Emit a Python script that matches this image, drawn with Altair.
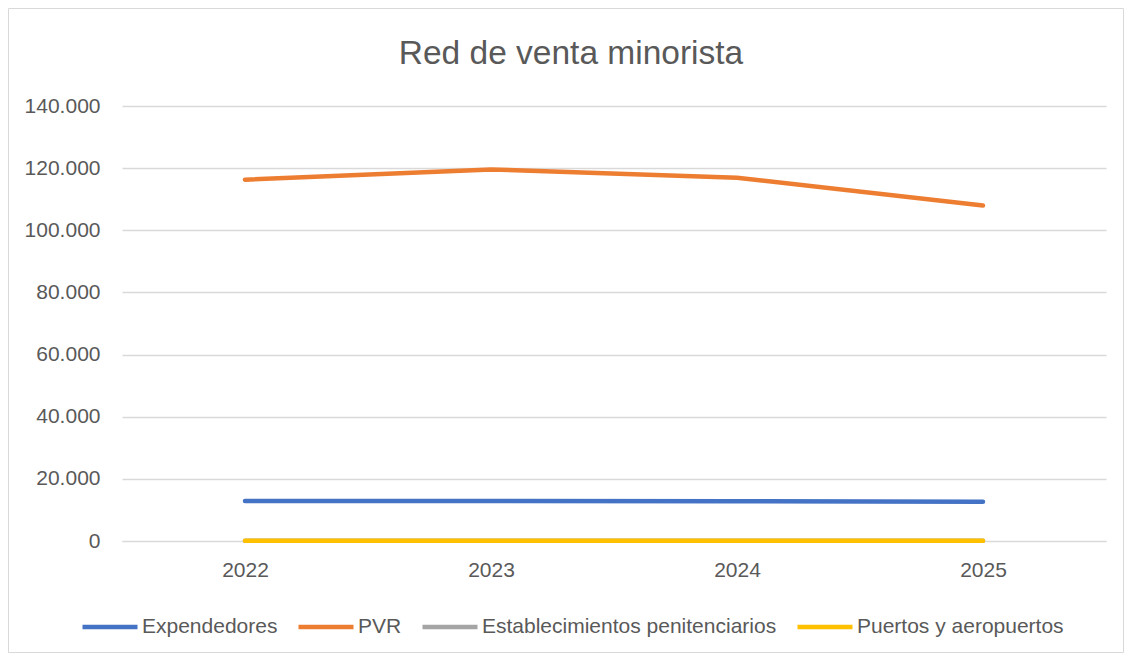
import altair as alt
import pandas as pd

years = ["2022", "2023", "2024", "2025"]
series_names = ["Expendedores", "PVR", "Establecimientos penitenciarios", "Puertos y aeropuertos"]
expendedores = [12900, 12850, 12800, 12650]
pvr = [116300, 119600, 116900, 108000]
penitenciarios = [50, 50, 50, 50]
puertos = [110, 110, 110, 110]
colors = ["#4472C4", "#ED7D31", "#A5A5A5", "#FFC000"]
y_ticks = [0, 20000, 40000, 60000, 80000, 100000, 120000, 140000]
title_text = "Red de venta minorista"

rows = []
for name, vals in zip(series_names, [expendedores, pvr, penitenciarios, puertos]):
    for yr, v in zip(years, vals):
        rows.append({"year": yr, "series": name, "value": v, "order": series_names.index(name)})
df = pd.DataFrame(rows)

W, H = 984, 435
PAD = {"left": 114, "top": 98, "right": 18, "bottom": 112}
FONT = "Liberation Sans"
GREY = "#595959"

lines = alt.Chart(df).mark_line(strokeWidth=4.5, strokeCap="round", strokeJoin="round").encode(
    x=alt.X("year:O", scale=alt.Scale(type="point", padding=0.5),
            axis=alt.Axis(title=None, labelAngle=0, ticks=False, domain=True, domainColor="#d9d9d9",
                          labelFontSize=21, labelColor=GREY, labelPadding=18, labelFont=FONT, grid=False)),
    y=alt.Y("value:Q", scale=alt.Scale(domain=[0, 140000], nice=False),
            axis=alt.Axis(title=None, values=y_ticks, format=",d", ticks=False, domain=False,
                          labelFontSize=21, labelColor=GREY, labelPadding=22, labelFont=FONT,
                          gridColor="#d9d9d9", gridWidth=1.3)),
    color=alt.Color("series:N", sort=series_names,
                    scale=alt.Scale(domain=series_names, range=colors),
                    legend=alt.Legend(title=None, orient="none", legendX=-42, legendY=491,
                                      direction="horizontal", symbolType="stroke",
                                      symbolStrokeWidth=4.5, symbolSize=3025, labelFontSize=21,
                                      labelColor=GREY, labelFont=FONT, labelOffset=2,
                                      labelLimit=500, columnPadding=11)),
    order=alt.Order("order:Q"),
    detail="series:N",
)

one = pd.DataFrame({"t": [title_text]})
border = alt.Chart(one).mark_rect(filled=False, stroke="#d9d9d9", strokeWidth=1).encode(
    x=alt.value(-PAD["left"] + 0.5), x2=alt.value(W + PAD["right"] - 0.5),
    y=alt.value(-PAD["top"] + 0.5), y2=alt.value(H + PAD["bottom"] - 0.5),
)
title = alt.Chart(one).mark_text(font=FONT, fontSize=33.5, color=GREY, align="center",
                                 baseline="alphabetic").encode(
    text="t:N", x=alt.value(449), y=alt.value(-42),
)

chart = alt.layer(border, title, lines).properties(
    width=W, height=H,
    autosize=alt.AutoSizeParams(type="none"),
    padding=PAD,
).configure(
    locale={"number": {"decimal": ",", "thousands": ".", "grouping": [3], "currency": ["", " €"]}}
).configure_view(strokeWidth=0, stroke="transparent")

chart.save("out.html", embed_options={"renderer": "svg", "actions": False})
